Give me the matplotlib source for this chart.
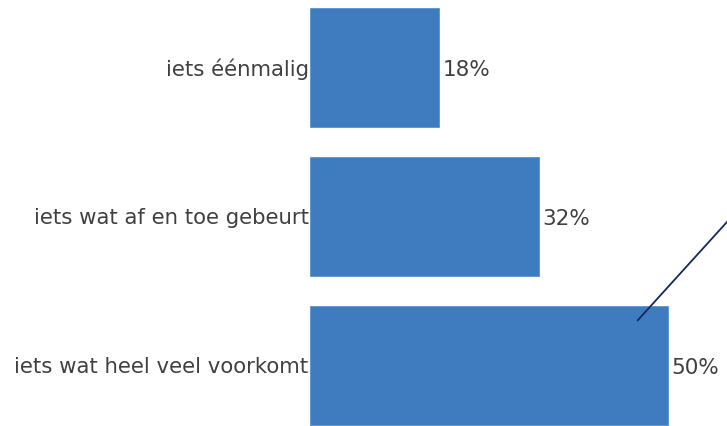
import matplotlib.pyplot as plt

categories = ["iets éénmalig", "iets wat af en toe gebeurt", "iets wat heel veel voorkomt"]
values = [18, 32, 50]
value_labels = ["18%", "32%", "50%"]

BAR_COLOR = "#3F7CBF"
TEXT_COLOR = "#404040"

fig = plt.figure(figsize=(7.27, 4.26), dpi=100)
ax = fig.add_axes([310 / 727, 0, 417 / 727, 1])

ypos = list(range(len(categories)))
ax.barh(ypos, values, height=0.8, color=BAR_COLOR, edgecolor="#5B93CF", linewidth=0.6)

ax.set_xlim(0, 58.3)
ax.set_ylim(2.409, -0.453)
ax.set_yticks(ypos)
ax.set_yticklabels(categories, fontsize=15.3, color=TEXT_COLOR)
ax.tick_params(axis="y", length=0, pad=1)
ax.set_xticks([])
for s in ax.spines.values():
    s.set_visible(False)

for y, v, lab in zip(ypos, values, value_labels):
    ax.text(v + 0.5, y + 0.02, lab, va="center", ha="left", fontsize=15.5, color=TEXT_COLOR)

# leader line going off the top right
ax.annotate("", xy=(45.8, 1.70), xytext=(1.0, 0.479), textcoords="axes fraction",
            arrowprops=dict(arrowstyle="-", color="#14285A", lw=1.3, shrinkA=0, shrinkB=0))

fig.savefig("out.png", dpi=100)
